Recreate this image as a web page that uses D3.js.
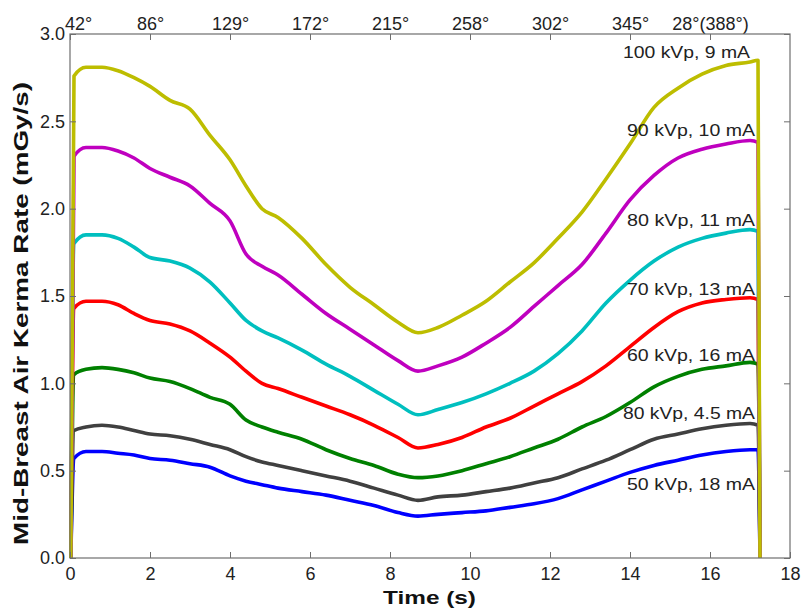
<!DOCTYPE html>
<html>
<head>
<meta charset="utf-8">
<script src="https://cdn.jsdelivr.net/npm/d3@7/dist/d3.min.js"></script>
<style>
html,body{margin:0;padding:0;background:#fff;}
svg{display:block;font-family:"Liberation Sans",Arial,sans-serif;}
</style>
</head>
<body>
<svg id="chart" width="803" height="610"></svg>
<script>
// ---- data ----
const times = [0.02,0.1,0.4,0.8,1.2,1.6,2.0,2.5,3.0,3.5,4.0,4.4,4.8,5.2,5.8,6.4,7.0,7.6,8.2,8.7,9.2,9.8,10.4,11.0,11.6,12.2,12.8,13.4,14.0,14.6,15.2,15.8,16.4,17.0,17.2,17.25];
const kv100_9  = [0,2.76,2.81,2.81,2.79,2.75,2.70,2.62,2.57,2.42,2.28,2.13,2.00,1.95,1.83,1.68,1.55,1.45,1.35,1.29,1.32,1.39,1.47,1.58,1.69,1.83,1.98,2.17,2.37,2.58,2.69,2.77,2.82,2.84,2.85,0];
const kv90_10  = [0,2.30,2.35,2.35,2.33,2.29,2.23,2.18,2.13,2.03,1.93,1.74,1.67,1.62,1.51,1.40,1.31,1.22,1.13,1.07,1.10,1.15,1.23,1.32,1.44,1.56,1.68,1.86,2.05,2.19,2.29,2.34,2.37,2.39,2.38,0];
const kv80_11  = [0,1.80,1.85,1.85,1.83,1.78,1.72,1.70,1.66,1.58,1.46,1.36,1.30,1.26,1.19,1.11,1.04,0.96,0.88,0.82,0.85,0.89,0.94,1.00,1.07,1.17,1.30,1.46,1.59,1.70,1.78,1.83,1.86,1.88,1.87,0];
const kv70_13  = [0,1.43,1.47,1.47,1.45,1.40,1.36,1.34,1.30,1.23,1.15,1.07,1.00,0.97,0.92,0.87,0.82,0.76,0.69,0.63,0.65,0.69,0.75,0.80,0.87,0.94,1.01,1.10,1.21,1.32,1.41,1.46,1.48,1.49,1.48,0];
const kv60_16  = [0,1.05,1.08,1.09,1.08,1.06,1.03,1.01,0.97,0.92,0.88,0.79,0.75,0.72,0.68,0.62,0.57,0.53,0.48,0.46,0.47,0.50,0.54,0.58,0.63,0.68,0.75,0.81,0.89,0.98,1.04,1.08,1.10,1.12,1.11,0];
const kv80_45  = [0,0.73,0.75,0.76,0.75,0.73,0.71,0.70,0.68,0.65,0.62,0.58,0.55,0.53,0.50,0.47,0.44,0.40,0.36,0.33,0.35,0.36,0.38,0.40,0.43,0.46,0.51,0.56,0.62,0.68,0.71,0.74,0.76,0.77,0.76,0];
const kv50_18  = [0,0.57,0.61,0.61,0.60,0.59,0.57,0.56,0.54,0.52,0.47,0.44,0.42,0.40,0.38,0.36,0.33,0.30,0.26,0.24,0.25,0.26,0.27,0.29,0.31,0.34,0.39,0.44,0.49,0.53,0.56,0.59,0.61,0.62,0.62,0];

const seriesNames  = ["50 kVp, 18 mA","80 kVp, 4.5 mA","60 kVp, 16 mA","70 kVp, 13 mA","80 kVp, 11 mA","90 kVp, 10 mA","100 kVp, 9 mA"];
const seriesValues = [kv50_18, kv80_45, kv60_16, kv70_13, kv80_11, kv90_10, kv100_9];
const seriesColors = ["#0000ff","#404040","#008000","#ff0000","#00bfbf","#bf00bf","#bdbd00"];

const xTicks = [0,2,4,6,8,10,12,14,16,18];
const yTicks = [0,0.5,1.0,1.5,2.0,2.5,3.0];
const topTicks = [0,2,4,6,8,10,12,14,16];
const topLabels = ["42°","86°","129°","172°","215°","258°","302°","345°","28°(388°)"];

// ---- drawing ----
const svg = d3.select("#chart");
const L = 70, R = 790, T = 34, B = 558;
const x = d3.scaleLinear().domain([0,18]).range([L,R]);
const y = d3.scaleLinear().domain([0,3]).range([B,T]);
const axisCol = "#6e6e6e", textCol = "#222";

svg.append("rect").attr("width",803).attr("height",610).attr("fill","#fff");

// curves
const line = d3.line().x((d,i)=>x(times[i])).y(d=>y(d)).curve(d3.curveMonotoneX);
seriesValues.forEach((vals,k)=>{
  svg.append("path").datum(vals)
    .attr("d",line)
    .attr("fill","none")
    .attr("stroke",seriesColors[k])
    .attr("stroke-width",3.6)
    .attr("stroke-linejoin","round");
});

function styleAxis(g){
  g.select(".domain").remove();
  g.selectAll(".tick line").attr("stroke",axisCol).attr("stroke-width",1);
  g.selectAll(".tick text").attr("fill",textCol).attr("font-size",18)
    .attr("font-family","'Liberation Sans',Arial,sans-serif");
}

// bottom
svg.append("g").attr("transform",`translate(0,${B})`)
  .call(d3.axisBottom(x).tickValues(xTicks).tickFormat(d3.format("d")).tickSizeInner(-6).tickSizeOuter(0).tickPadding(9))
  .call(styleAxis);
// left
svg.append("g").attr("transform",`translate(${L},0)`)
  .call(d3.axisLeft(y).tickValues(yTicks).tickFormat(d3.format(".1f")).tickSizeInner(-6).tickSizeOuter(0).tickPadding(5))
  .call(styleAxis);
// right
svg.append("g").attr("transform",`translate(${R},0)`)
  .call(d3.axisRight(y).tickValues(yTicks).tickFormat("").tickSizeInner(-6).tickSizeOuter(0))
  .call(styleAxis);
// top
svg.append("g").attr("transform",`translate(0,${T})`)
  .call(d3.axisTop(x).tickValues(topTicks).tickFormat((d,i)=>topLabels[i]).tickSizeInner(-6).tickSizeOuter(0).tickPadding(4))
  .call(styleAxis)
  .call(g=>g.selectAll(".tick text").filter((d,i)=>i===0).attr("dx",8));

// box
svg.append("rect").attr("x",L).attr("y",T).attr("width",R-L).attr("height",B-T)
  .attr("fill","none").attr("stroke",axisCol).attr("stroke-width",1.2);

// series labels (placed above the end of each curve, the lowest below)
const labelOffsets = [40,-6,-3,-4.5,-5,-6,-2];
seriesNames.forEach((name,k)=>{
  const vals = seriesValues[k];
  const endV = vals[vals.length-2];
  svg.append("text")
    .attr("x", k===6 ? 750 : 755)
    .attr("y", y(endV)+labelOffsets[k])
    .attr("text-anchor","end")
    .attr("font-size",17)
    .attr("fill",textCol)
    .attr("textLength", k===6 ? 127 : (k===1 ? 132 : 128))
    .attr("lengthAdjust","spacingAndGlyphs")
    .text(name);
});

// axis titles
svg.append("text").attr("x",(383+476)/2).attr("y",604).attr("text-anchor","middle")
  .attr("font-size",19).attr("font-weight","bold").attr("fill","#111")
  .attr("textLength",93).attr("lengthAdjust","spacingAndGlyphs")
  .text("Time (s)");
svg.append("text").attr("transform",`translate(28,${(82+545)/2}) rotate(-90)`)
  .attr("text-anchor","middle")
  .attr("font-size",21).attr("font-weight","bold").attr("fill","#111")
  .attr("textLength",463).attr("lengthAdjust","spacingAndGlyphs")
  .text("Mid-Breast Air Kerma Rate (mGy/s)");
</script>
</body>
</html>
